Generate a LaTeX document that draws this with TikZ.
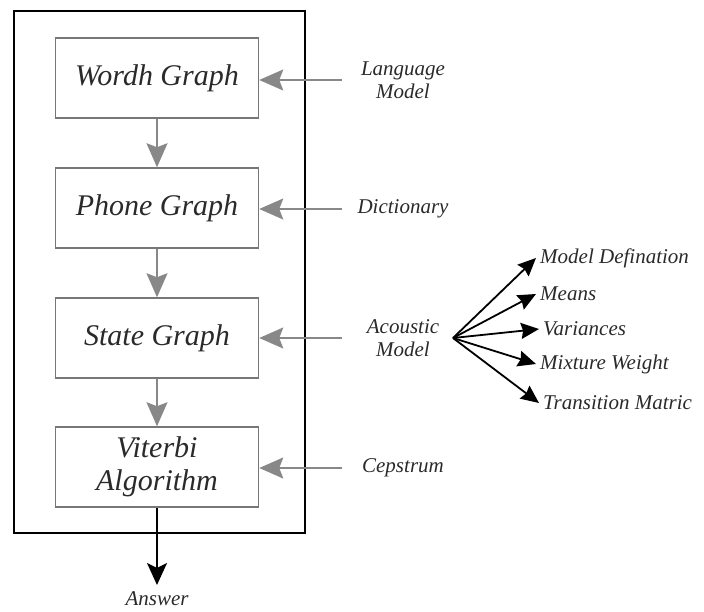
\documentclass[tikz,border=0pt]{standalone}
\usepackage{fontspec}
\setmainfont{Liberation Serif}
\usepackage{tikz}
\usetikzlibrary{positioning,arrows.meta}
\definecolor{boxline}{HTML}{777777}
\definecolor{garrowc}{HTML}{888888}
\definecolor{txtc}{HTML}{2A2A2A}

\begin{document}
\begin{tikzpicture}[x=1pt,y=-1pt,font=\itshape]
% ---- styles ----
\tikzstyle{stage}=[draw=boxline,line width=1.5pt,align=center,text=txtc,
  minimum width=203pt,minimum height=80pt,font=\fontsize{30}{31}\selectfont\itshape]
\tikzstyle{input}=[align=center,text=txtc,minimum width=122pt,inner sep=2pt,
  font=\fontsize{21}{23}\selectfont\itshape]
\tikzstyle{param}=[anchor=west,text=txtc,inner sep=4pt,
  font=\fontsize{21}{23}\selectfont\itshape]
\tikzstyle{garrow}=[draw=garrowc,line width=1.8pt,
  -{Stealth[length=24pt,width=21pt,inset=4pt]}]
\tikzstyle{barrow}=[draw=black,line width=1.8pt,
  -{Stealth[length=18pt,width=16pt,inset=2pt]}]

\useasboundingbox (0,0) rectangle (704,612);

% ---- outer frame ----
\draw[line width=2pt] (14,11) rectangle (305,533);

% ---- decoding stages ----
\node[stage] (word) at (157,78) {Wordh Graph};
\node[stage] (phone) at (157,208) {Phone Graph};
\node[stage] (state) at (157,338) {State Graph};
\node[stage,font=\fontsize{30}{33}\selectfont\itshape] (vit) at (157,467) {Viterbi\\Algorithm};

\draw[garrow] (word) -- (phone);
\draw[garrow] (phone) -- (state);
\draw[garrow] (state) -- (vit);

% ---- knowledge sources ----
\node[input] (lm) at (403,80) {Language\\Model};
\node[input] (dict) at (403,209) {Dictionary};
\node[input] (am) at (403,338) {Acoustic\\Model};
\node[input] (cep) at (403,468) {Cepstrum};

\draw[garrow] (lm.west) -- (lm.west -| word.east);
\draw[garrow] (dict.west) -- (dict.west -| phone.east);
\draw[garrow] (am.west) -- (am.west -| state.east);
\draw[garrow] (cep.west) -- (cep.west -| vit.east);

% ---- acoustic model parameters ----
\coordinate (fan) at (453,338);
\node[param] (mdef) at (536,258) {Model Defination};
\node[param] (mean) at (536,294) {Means};
\node[param] (var) at (539,329) {Variances};
\node[param] (mix) at (536,364) {Mixture Weight};
\node[param] (trans) at (539,403) {Transition Matric};

\foreach \p in {mdef,mean,var,mix,trans}
  \draw[barrow] (fan) -- (\p.west);

% ---- output ----
\node[anchor=north,text=txtc,inner sep=2pt,
  font=\fontsize{21}{23}\selectfont\itshape] (ans) at (157,589) {Answer};
\draw[line width=2pt,-{Stealth[length=22pt,width=20pt,inset=5pt]},
  shorten >=4pt] (vit) -- (ans);

\end{tikzpicture}
\end{document}
